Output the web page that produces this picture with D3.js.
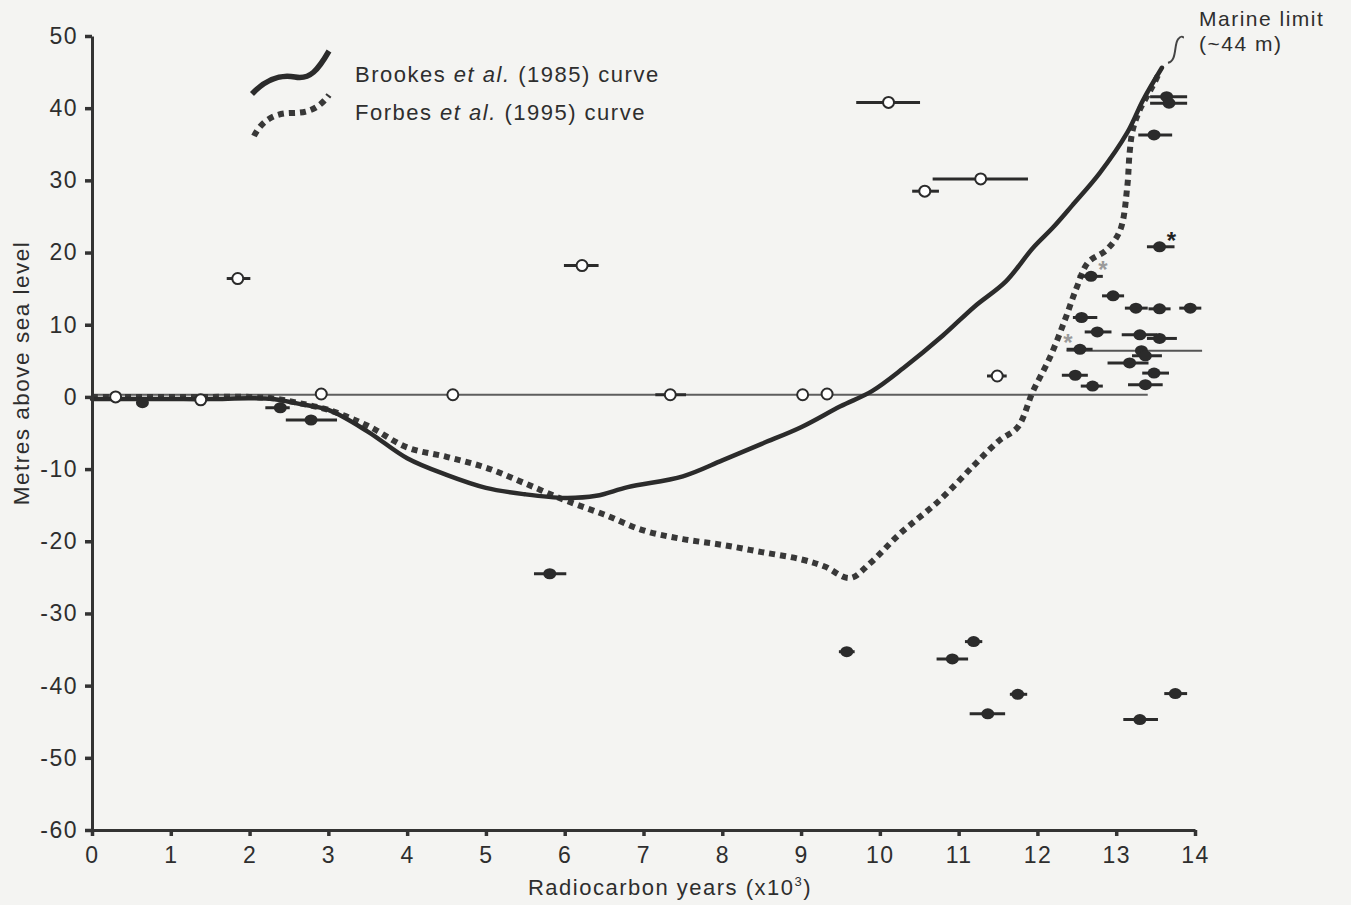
<!DOCTYPE html>
<html>
<head>
<meta charset="utf-8">
<script src="https://cdn.jsdelivr.net/npm/d3@7"></script>
<style>
  html, body { margin: 0; padding: 0; background: #f4f4f2; }
  svg { display: block; font-family: "Liberation Sans", Arial, Helvetica, sans-serif; }
  .lbl { letter-spacing: 1.5px; fill: #2e2e2e; }
</style>
</head>
<body>
<svg id="chart" width="1351" height="905"></svg>
<script>
// Sea-level curves: radiocarbon age (ka BP) vs elevation (m asl)
const brookesAge  = [0, 0.5, 1, 1.5, 2, 2.3, 2.6, 3, 3.5, 4, 4.5, 5, 5.5, 6, 6.4, 6.8, 7.5, 8, 8.5, 9, 9.5, 9.9, 10.3, 10.8, 11.2, 11.6, 11.94, 12.2, 12.44, 12.79, 13.14, 13.34, 13.58];
const brookesElev = [-0.3, -0.3, -0.3, -0.3, -0.2, -0.3, -0.9, -1.8, -4.8, -8.5, -10.8, -12.6, -13.5, -14, -13.7, -12.5, -11, -8.8, -6.5, -4.2, -1.3, 0.8, 4, 8.5, 12.5, 16, 20.6, 23.5, 26.5, 31.0, 36.6, 41.1, 45.6];

const forbesAge  = [0, 0.5, 1, 1.5, 2, 2.3, 2.6, 3, 3.5, 4, 4.5, 5, 5.5, 6, 6.5, 7, 7.5, 8, 8.5, 9, 9.3, 9.62, 9.88, 10.25, 10.76, 11.2, 11.52, 11.75, 11.94, 12.16, 12.35, 12.5, 12.64, 12.88, 13.05, 13.14, 13.17, 13.21, 13.3, 13.45, 13.55];
const forbesElev = [0, 0, 0, 0, 0, -0.2, -0.8, -1.8, -4, -7, -8.3, -9.8, -12, -14.3, -16.3, -18.5, -19.7, -20.5, -21.5, -22.5, -23.5, -25.1, -23, -19, -14.3, -9.4, -6, -4.2, 0.7, 5.5, 10.7, 15.2, 18.6, 20.4, 23.1, 29.1, 33.8, 37.0, 39.8, 42.8, 45.0];

// Dated samples: [age, elevation, age min, age max]
const openSamples = [
  [0.30, 0.0, 0.30, 0.30],
  [1.38, -0.4, 1.38, 1.38],
  [1.85, 16.4, 1.71, 2.01],
  [2.91, 0.4, 2.91, 2.91],
  [4.58, 0.3, 4.58, 4.58],
  [6.22, 18.2, 5.99, 6.43],
  [7.34, 0.3, 7.15, 7.54],
  [9.02, 0.3, 9.02, 9.02],
  [9.33, 0.4, 9.33, 9.33],
  [10.11, 40.8, 9.70, 10.51],
  [11.28, 30.2, 10.67, 11.88],
  [10.57, 28.5, 10.41, 10.75],
  [11.49, 2.9, 11.36, 11.61]
];
const filledSamples = [
  [0.64, -0.8, 0.58, 0.70],
  [2.39, -1.5, 2.20, 2.51],
  [2.78, -3.2, 2.46, 3.11],
  [5.81, -24.5, 5.61, 6.02],
  [9.58, -35.3, 9.48, 9.68],
  [10.92, -36.3, 10.72, 11.12],
  [11.19, -33.9, 11.08, 11.30],
  [11.37, -43.9, 11.14, 11.59],
  [11.75, -41.2, 11.65, 11.87],
  [13.30, -44.7, 13.09, 13.53],
  [13.75, -41.1, 13.61, 13.90],
  [13.55, 20.8, 13.39, 13.74],
  [12.68, 16.7, 12.51, 12.83],
  [12.96, 14.0, 12.82, 13.10],
  [13.25, 12.3, 13.11, 13.40],
  [13.55, 12.2, 13.41, 13.69],
  [13.94, 12.3, 13.80, 14.08],
  [12.56, 11.0, 12.45, 12.76],
  [12.76, 9.0, 12.60, 12.94],
  [13.30, 8.6, 13.07, 13.52],
  [13.55, 8.1, 13.39, 13.77],
  [12.54, 6.6, 12.37, 12.70],
  [13.37, 5.7, 13.20, 13.58],
  [13.17, 4.7, 12.89, 13.41],
  [13.48, 3.3, 13.33, 13.67],
  [12.48, 3.0, 12.31, 12.64],
  [12.70, 1.5, 12.55, 12.83],
  [13.37, 1.7, 13.15, 13.59],
  [13.64, 41.6, 13.43, 13.90],
  [13.67, 40.7, 13.43, 13.90],
  [13.48, 36.3, 13.28, 13.71]
];
// Sample with a very wide age range (thin bar)
const wideSamples = [[13.32, 6.4, 12.37, 14.09]];

// Flagged samples: [age, elevation, flag colour, side of the mark]
const flagged = [[13.55, 20.8, "#222", 1], [12.68, 16.7, "#9a9a9a", 1], [12.54, 6.6, "#9a9a9a", -1]];

const seaLevelLine = [0, 13.4];  // present sea-level reference, age span
const seaLevelElev = 0.3;

const xTicks = d3.range(0, 15, 1);
const yTicks = d3.range(-60, 51, 10);

const svg = d3.select("#chart");
const x = d3.scaleLinear().domain([0, 14]).range([92, 1195]);
const y = d3.scaleLinear().domain([-60, 50]).range([830, 36]);
const ink = "#2b2b2b";

// Present sea-level reference line
svg.append("line")
  .attr("x1", x(seaLevelLine[0])).attr("x2", x(seaLevelLine[1]))
  .attr("y1", y(seaLevelElev)).attr("y2", y(seaLevelElev))
  .attr("stroke", "#5e5e5e").attr("stroke-width", 2);

// Curves
const line = d3.line().x(d => x(d[0])).y(d => y(d[1])).curve(d3.curveCatmullRom.alpha(0.5));
svg.append("path")
  .attr("d", line(forbesAge.map((a, i) => [a, forbesElev[i]])))
  .attr("fill", "none").attr("stroke", "#383838").attr("stroke-width", 6)
  .attr("stroke-dasharray", "6,5");
svg.append("path")
  .attr("d", line(brookesAge.map((a, i) => [a, brookesElev[i]])))
  .attr("fill", "none").attr("stroke", ink).attr("stroke-width", 4.5)
  .attr("stroke-linecap", "round");

// Wide-range sample bar
const wide = svg.append("g");
wide.selectAll("line").data(wideSamples).join("line")
  .attr("x1", d => x(d[2])).attr("x2", d => x(d[3]))
  .attr("y1", d => y(d[1])).attr("y2", d => y(d[1]))
  .attr("stroke", "#555").attr("stroke-width", 2);
wide.selectAll("ellipse").data(wideSamples).join("ellipse")
  .attr("cx", d => x(d[0])).attr("cy", d => y(d[1])).attr("rx", 6.5).attr("ry", 5.5).attr("fill", ink);

// Filled samples
const fg = svg.append("g");
fg.selectAll("line").data(filledSamples).join("line")
  .attr("x1", d => x(d[2])).attr("x2", d => x(d[3]))
  .attr("y1", d => y(d[1])).attr("y2", d => y(d[1]))
  .attr("stroke", ink).attr("stroke-width", 3);
fg.selectAll("ellipse").data(filledSamples).join("ellipse")
  .attr("cx", d => x(d[0])).attr("cy", d => y(d[1])).attr("rx", 6.5).attr("ry", 5.5).attr("fill", ink);

// Open samples
const og = svg.append("g");
og.selectAll("line").data(openSamples).join("line")
  .attr("x1", d => x(d[2])).attr("x2", d => x(d[3]))
  .attr("y1", d => y(d[1])).attr("y2", d => y(d[1]))
  .attr("stroke", ink).attr("stroke-width", 3);
og.selectAll("circle").data(openSamples).join("circle")
  .attr("cx", d => x(d[0])).attr("cy", d => y(d[1])).attr("r", 5.5)
  .attr("fill", "#ffffff").attr("stroke", ink).attr("stroke-width", 2);

// Asterisk flags
svg.append("g").selectAll("text").data(flagged).join("text")
  .attr("x", d => x(d[0]) + d[3] * 12).attr("y", d => y(d[1]) + 2)
  .attr("text-anchor", "middle")
  .attr("font-size", 24).attr("font-weight", "bold").attr("fill", d => d[2])
  .text("*");

// Axes
const fmt = d => String(d);   // plain hyphen for negatives
const yAxis = svg.append("g").attr("transform", `translate(${x(0)},0)`)
  .call(d3.axisLeft(y).tickValues(yTicks).tickFormat(fmt).tickSize(7).tickSizeOuter(0).tickPadding(7));
const xAxis = svg.append("g").attr("transform", `translate(0,${y(-60)})`)
  .call(d3.axisBottom(x).tickValues(xTicks).tickFormat(fmt).tickSize(6).tickSizeOuter(0).tickPadding(11));
[yAxis, xAxis].forEach(g => {
  g.select(".domain").attr("stroke", "#333").attr("stroke-width", 3);
  g.selectAll(".tick line").attr("stroke", "#333").attr("stroke-width", 3.5);
  g.selectAll(".tick text").attr("class", "lbl").attr("font-size", 23)
    .attr("font-family", "'Liberation Sans', Arial, sans-serif");
});

// Axis titles
svg.append("text").attr("class", "lbl")
  .attr("transform", `translate(29,373) rotate(-90)`)
  .attr("text-anchor", "middle").attr("font-size", 22.5)
  .text("Metres above sea level");
const xt = svg.append("text").attr("class", "lbl")
  .attr("x", 670).attr("y", 895)
  .attr("text-anchor", "middle").attr("font-size", 22);
xt.append("tspan").text("Radiocarbon years (x10");
xt.append("tspan").attr("font-size", 13).attr("dy", -9).text("3");
xt.append("tspan").attr("dy", 9).text(")");

// Legend
const lg = svg.append("g");
lg.append("path")
  .attr("d", "M252,94 C266,79 280,74 295,77 C310,80 318,70 329,51")
  .attr("fill", "none").attr("stroke", ink).attr("stroke-width", 5.5);
lg.append("path")
  .attr("d", "M254,136 C262,120 275,113 292,113 C306,113 318,110 329,95")
  .attr("fill", "none").attr("stroke", "#383838").attr("stroke-width", 6)
  .attr("stroke-dasharray", "6,5");
const legendItems = [["Brookes ", "et al.", " (1985) curve"], ["Forbes ", "et al.", " (1995) curve"]];
legendItems.forEach((parts, i) => {
  const t = lg.append("text").attr("class", "lbl").attr("x", 355).attr("y", 82 + i * 38)
    .attr("font-size", 22);
  t.append("tspan").text(parts[0]);
  t.append("tspan").attr("font-style", "italic").text(parts[1]);
  t.append("tspan").text(parts[2]);
});

// Marine limit annotation
const mx = x(13.72), myTop = y(49.8), myBot = y(46.3);
svg.append("path")
  .attr("d", `M${mx - 5},${myBot} C${mx + 4},${myBot - 1} ${mx + 1},${myTop + 7} ${mx + 5},${myTop + 2} S${mx + 9},${myTop} ${mx + 11},${myTop}`)
  .attr("fill", "none").attr("stroke", "#444").attr("stroke-width", 2);
svg.append("text").attr("class", "lbl").attr("x", 1199).attr("y", 26).attr("font-size", 21)
  .text("Marine limit");
svg.append("text").attr("class", "lbl").attr("x", 1199).attr("y", 51).attr("font-size", 21)
  .text("(~44 m)");
</script>
</body>
</html>
